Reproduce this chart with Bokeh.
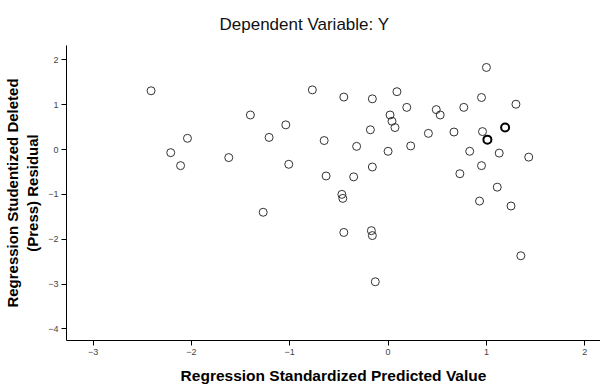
from bokeh.plotting import figure
from bokeh.models import Range1d, FixedTicker, Title
from bokeh.embed import file_html
from bokeh.resources import INLINE

# Regression standardized predicted value (x) and studentized deleted residual (y)
pred = [-2.41, -0.77, -1.40, -1.04, -2.04, -1.21, -0.65, -2.21, -1.62, -2.11, -1.01, -0.63,
        1.00, -0.45, -0.16, 0.09, 0.19, 0.02, 0.04, 0.07, 0.49, 0.53, 0.95, 0.77, 1.30,
        0.96, 0.67, 0.41, -0.18, -0.32, 0.00, 0.23, 0.83, 1.13, 1.43, -0.16, -0.35,
        0.95, 0.73, 1.11, -0.47, -0.46, 0.93, 1.25, -0.45, -0.17, -0.16, 1.35, -0.13, -1.27]
resid = [1.31, 1.33, 0.77, 0.55, 0.25, 0.27, 0.20, -0.07, -0.18, -0.36, -0.33, -0.59,
         1.83, 1.17, 1.13, 1.29, 0.94, 0.77, 0.63, 0.49, 0.89, 0.77, 1.16, 0.94, 1.01,
         0.40, 0.39, 0.36, 0.44, 0.07, -0.04, 0.08, -0.04, -0.08, -0.17, -0.39, -0.61,
         -0.36, -0.54, -0.84, -1.00, -1.09, -1.15, -1.26, -1.85, -1.81, -1.92, -2.37, -2.95, -1.40]
# highlighted (darker) points
pred_bold = [1.19, 1.01]
resid_bold = [0.49, 0.22]

x_ticks = [-3, -2, -1, 0, 1, 2]
y_ticks = [2, 1, 0, -1, -2, -3, -4]

FONT = "Liberation Sans"

p = figure(width=600, height=391, frame_width=534, frame_height=295,
           min_border_left=61, min_border_right=5, min_border_top=44, min_border_bottom=52,
           output_backend="svg", toolbar_location=None,
           x_range=Range1d(-3.27, 2.16), y_range=Range1d(-4.26, 2.32))

p.title = Title(text="Dependent Variable: Y", align="left", offset=153, standoff=24,
                text_font=FONT, text_font_size="17px", text_font_style="normal",
                text_color="#111111")

p.scatter(pred, resid, marker="circle", size=8, fill_color=None,
          line_color="#333333", line_width=1)
p.scatter(pred_bold, resid_bold, marker="circle", size=8, fill_color=None,
          line_color="#000000", line_width=2)

p.xgrid.visible = False
p.ygrid.visible = False
p.outline_line_color = None
p.background_fill_color = "white"
p.border_fill_color = "white"

p.xaxis.ticker = FixedTicker(ticks=x_ticks)
p.yaxis.ticker = FixedTicker(ticks=y_ticks)

for ax in (p.xaxis[0], p.yaxis[0]):
    ax.axis_line_color = "black"
    ax.axis_line_width = 1
    ax.major_tick_line_color = "black"
    ax.major_tick_in = 0
    ax.major_tick_out = 5
    ax.minor_tick_line_color = None
    ax.major_label_text_font = FONT
    ax.major_label_text_font_size = "9px"
    ax.major_label_text_color = "#444444"
    ax.major_label_standoff = 3
    ax.axis_label_text_font = FONT
    ax.axis_label_text_font_style = "bold"
    ax.axis_label_text_color = "black"

p.xaxis.axis_label = "Regression Standardized Predicted Value"
p.xaxis.axis_label_text_font_size = "15.5px"
p.xaxis.axis_label_standoff = 9
p.yaxis.axis_label = "Regression Studentized Deleted\n(Press) Residual"
p.yaxis.axis_label_text_font_size = "15px"
p.yaxis.axis_label_standoff = 4

open("out.html", "w").write(file_html(p, INLINE))
